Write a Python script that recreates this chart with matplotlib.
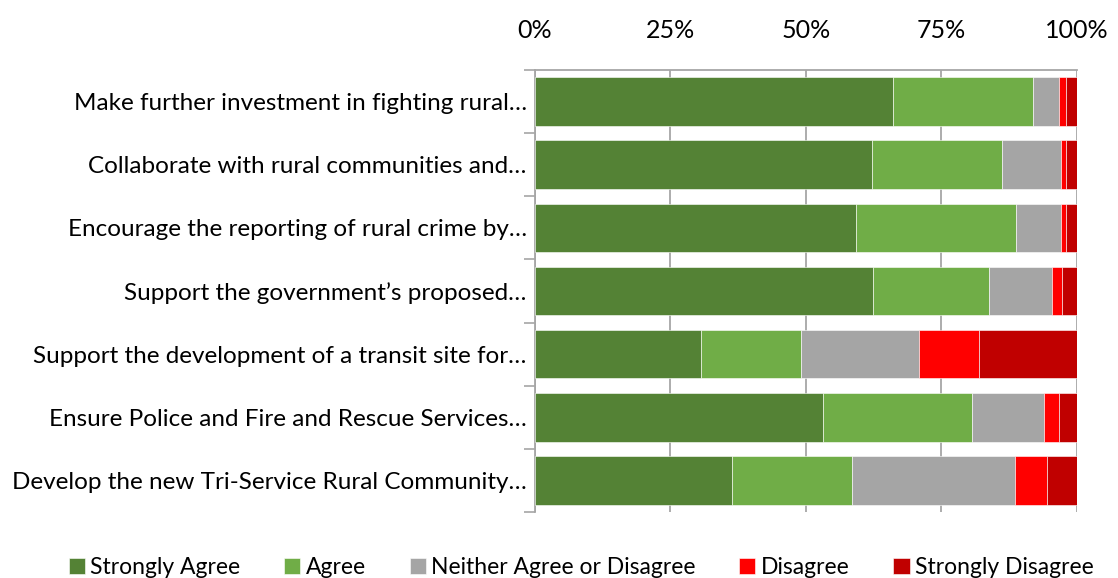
import numpy as np
import matplotlib.pyplot as plt
from matplotlib.ticker import FixedLocator, PercentFormatter

plt.rcParams['font.family'] = ['Lato', 'DejaVu Sans']

# statements, top to bottom
statements = [
    "Make further investment in fighting rural\u2026",
    "Collaborate with rural communities and\u2026",
    "Encourage the reporting of rural crime by\u2026",
    "Support the government\u2019s proposed\u2026",
    "Support the development of a transit site for\u2026",
    "Ensure Police and Fire and Rescue Services\u2026",
    "Develop the new Tri-Service Rural Community\u2026",
]

# shares of responses (%) per statement
strongly_agree = [66.0, 62.2, 59.2, 62.4, 30.7, 53.1, 36.4]
agree = [25.9, 23.9, 29.5, 21.4, 18.4, 27.6, 22.1]
neither = [4.7, 10.9, 8.3, 11.6, 21.7, 13.2, 30.0]
disagree = [1.3, 0.9, 0.9, 1.9, 11.1, 2.7, 5.9]
strongly_disagree = [2.1, 2.1, 2.1, 2.7, 18.1, 3.4, 5.6]

series = [
    ("Strongly Agree", strongly_agree, "#548235"),
    ("Agree", agree, "#70ad47"),
    ("Neither Agree or Disagree", neither, "#a5a5a5"),
    ("Disagree", disagree, "#ff0000"),
    ("Strongly Disagree", strongly_disagree, "#c00000"),
]

fig = plt.figure(figsize=(11.18, 5.78), dpi=100)
ax = fig.add_axes([0.4785, 0.1142, 0.4848, 0.7647])

y = np.arange(len(statements))
left = np.zeros(len(statements))
for name, vals, col in series:
    vals = np.array(vals)
    ax.barh(y, vals, left=left, height=0.77, color=col, label=name,
            edgecolor='white', linewidth=0.4, zorder=3)
    left += vals

ax.set_xlim(0, 100)
ax.set_ylim(len(statements) - 0.5, -0.5)
ax.xaxis.tick_top()
ax.set_xticks([0, 25, 50, 75, 100])
ax.xaxis.set_major_formatter(PercentFormatter(decimals=0))
ax.tick_params(axis='x', length=0, labelsize=18, pad=20)
ax.grid(axis='x', color='#a6a6a6', linewidth=1.3, zorder=0)

ax.set_yticks(y)
ax.set_yticklabels(statements, fontsize=17.5)
ax.tick_params(axis='y', which='major', length=0, pad=6)
ax.yaxis.set_minor_locator(FixedLocator(np.arange(-0.5, len(statements), 1.0)))
ax.tick_params(axis='y', which='minor', length=8, color='#a6a6a6', width=1.2)

for s in ['right', 'bottom']:
    ax.spines[s].set_visible(False)
for s in ['left', 'top']:
    ax.spines[s].set_color('#a6a6a6')
    ax.spines[s].set_linewidth(1.3)

fig.legend(loc='lower center', bbox_to_anchor=(0.52, -0.035), ncol=5, frameon=False,
           fontsize=16.5, handlelength=0.7, handleheight=0.7, handletextpad=0.25,
           columnspacing=1.9)

fig.savefig('out.png', dpi=100)
